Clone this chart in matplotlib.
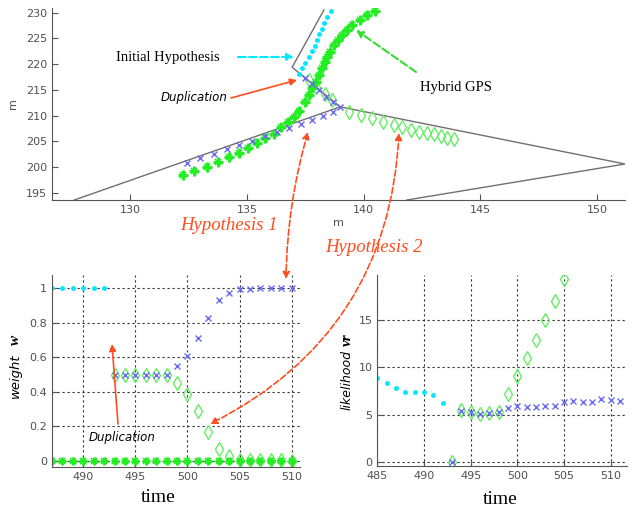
import numpy as np
import matplotlib
matplotlib.use("Agg")
import matplotlib.pyplot as plt

# ---- dados do mapa (m) ----
track_a = [(138.3, 230.5), (136.94, 219.4), (139.0, 211.7), (151.2, 200.6), (141.85, 193.6)]
track_b = [(127.6, 193.6), (139.0, 211.7)]

init_x = [137.25, 137.35, 137.5, 137.65, 137.8, 137.9, 138.0, 138.1, 138.2, 138.3, 138.45, 138.6]
init_y = [218.0, 219.2, 220.3, 221.4, 222.5, 223.6, 224.7, 225.8, 226.9, 228.0, 229.2, 230.4]

gps_x = [132.26, 132.75, 133.28, 133.78, 134.22, 134.65, 135.03, 135.44, 135.79, 136.15, 136.48,
         136.76, 137.00, 137.23, 137.47, 137.65, 137.80, 137.94, 138.08, 138.23, 138.33, 138.44,
         138.58, 138.73, 138.90, 139.09, 139.30, 139.52, 139.84, 140.16, 140.47]
gps_y = [198.44, 199.22, 200.06, 201.03, 202.00, 202.82, 203.64, 204.67, 205.64, 206.42, 207.78,
         208.75, 209.73, 210.90, 212.65, 214.01, 215.31, 216.60, 217.90, 219.20, 220.49, 221.46,
         222.43, 223.74, 224.71, 225.68, 226.65, 227.63, 228.60, 229.57, 230.41]

hyp1_x = [132.43, 133.00, 133.57, 134.15, 134.68, 135.22, 135.76, 136.27, 136.79, 137.30, 137.80,
          138.27, 138.68, 139.01, 137.51, 137.81, 138.11, 138.41, 138.71]
hyp1_y = [200.84, 201.69, 202.53, 203.50, 204.28, 205.12, 206.03, 206.75, 207.53, 208.31, 209.14,
          209.92, 210.76, 211.73, 217.32, 216.15, 214.98, 213.62, 212.65]

hyp2_x = [137.64, 137.98, 138.33, 138.63, 139.37, 139.87, 140.34, 140.85, 141.30, 141.66, 142.02,
          142.37, 142.70, 143.02, 143.30, 143.59, 143.88]
hyp2_y = [216.93, 215.56, 214.20, 213.04, 210.76, 210.12, 209.47, 208.81, 208.17, 207.72, 207.20,
          206.87, 206.67, 206.36, 206.03, 205.70, 205.39]

# ---- pesos ----
w_init_t = [487, 488, 489, 490, 491, 492]
w_init = [1, 1, 1, 1, 1, 1]
w_zero_t = list(range(487, 511))
w_zero = [0] * len(w_zero_t)
w_h1_t = [493, 494, 495, 496, 497, 498, 499, 500, 501, 502, 503, 504, 505, 506, 507, 508, 509, 510]
w_h1 = [0.5, 0.5, 0.5, 0.5, 0.5, 0.5, 0.55, 0.61, 0.71, 0.83, 0.93, 0.975, 0.996, 0.995, 1.0, 1.0, 1.0, 1.0]
w_h2_t = [493, 494, 495, 496, 497, 498, 499, 500, 501, 502, 503, 504, 505, 506, 507, 508, 509, 510]
w_h2 = [0.5, 0.5, 0.5, 0.5, 0.5, 0.5, 0.45, 0.385, 0.29, 0.17, 0.07, 0.027, 0.005, 0.005, 0.004, 0.003, 0.003, 0.002]

# ---- verossimilhanca ----
v_init_t = [485, 486, 487, 488, 489, 490, 491, 492]
v_init = [8.85, 8.32, 7.8, 7.44, 7.44, 7.44, 7.09, 6.2]
v_h1_t = [493, 494, 495, 496, 497, 498, 499, 500, 501, 502, 503, 504, 505, 506, 507, 508, 509, 510, 511]
v_h1 = [0, 5.44, 5.33, 5.09, 5.23, 5.33, 5.76, 5.93, 5.79, 5.79, 5.93, 5.96, 6.32, 6.46, 6.39, 6.39, 6.67, 6.57, 6.5]
v_h2_t = [493, 494, 495, 496, 497, 498, 499, 500, 501, 502, 503, 504, 505]
v_h2 = [0, 5.5, 5.35, 5.05, 5.2, 5.35, 7.16, 9.09, 11.03, 12.89, 14.99, 17.0, 19.3]

CYAN = '#00e8ff'
BLUE = '#6a6aee'
GREEN = '#22ee22'
LGREEN = '#66ee66'
RED = '#ff4d1f'
TICK = '#505050'


def style_axes(ax, grid):
    for s in ['top', 'right']:
        ax.spines[s].set_visible(False)
    for s in ['left', 'bottom']:
        ax.spines[s].set_color('#555555')
    ax.tick_params(direction='in', length=4, labelsize=8, labelcolor=TICK, color='#555555')
    if grid:
        ax.grid(True, color='#333333', linestyle=(0, (2, 2.5)), linewidth=0.8)
        ax.set_axisbelow(True)


def star(ax, x, y, ms):
    # asterisco estilo matlab: '+' grosso com um 'x' por cima
    ax.plot(x, y, '+', color=GREEN, ms=ms, mew=2.2)
    ax.plot(x, y, 'x', color=GREEN, ms=ms * 0.7, mew=1.2)


fig = plt.figure(figsize=(6.32, 5.13), dpi=100)

# mapa superior
ax = fig.add_axes([0.0823, 0.6101, 0.9066, 0.3743])
ax.plot(*zip(*track_a), color='#707070', lw=1)
ax.plot(*zip(*track_b), color='#707070', lw=1)
ax.plot(hyp2_x, hyp2_y, 'd', mfc='none', mec=LGREEN, ms=7, mew=1)
star(ax, gps_x, gps_y, 6.5)
ax.plot(hyp1_x, hyp1_y, 'x', color=BLUE, ms=4, mew=1)
ax.plot(init_x, init_y, 'o', color=CYAN, ms=2.5)
ax.set_xlim(126.65, 151.2)
ax.set_ylim(193.6, 230.9)
ax.set_xticks([130, 135, 140, 145, 150])
ax.set_yticks([195, 200, 205, 210, 215, 220, 225, 230])
style_axes(ax, False)
ax.set_xlabel('m', fontsize=8, color=TICK, labelpad=2)
ax.set_ylabel('m', fontsize=8, color=TICK, labelpad=6)

# pesos
ax1 = fig.add_axes([0.0823, 0.0903, 0.3924, 0.3737])
ax1.plot(w_init_t, w_init, 'o', color=CYAN, ms=2.5)
ax1.plot(w_h2_t, w_h2, 'd', mfc='none', mec=LGREEN, ms=7, mew=1)
star(ax1, w_zero_t, w_zero, 5.5)
ax1.plot(w_h1_t, w_h1, 'x', color=BLUE, ms=4, mew=1)
ax1.set_xlim(487, 510.8)
ax1.set_ylim(-0.033, 1.077)
ax1.set_xticks([490, 495, 500, 505, 510])
ax1.set_yticks([0, 0.2, 0.4, 0.6, 0.8, 1])
ax1.set_yticklabels(['0', '0.2', '0.4', '0.6', '0.8', '1'])
style_axes(ax1, True)

# verossimilhanca
ax2 = fig.add_axes([0.597, 0.0922, 0.3946, 0.3717])
ax2.plot(v_init_t, v_init, 'o', color=CYAN, ms=2.5)
ax2.plot(v_h2_t, v_h2, 'd', mfc='none', mec=LGREEN, ms=7, mew=1)
ax2.plot(v_h1_t, v_h1, 'x', color=BLUE, ms=4, mew=1)
ax2.set_xlim(485, 511.7)
ax2.set_ylim(-0.36, 19.74)
ax2.set_xticks([485, 490, 495, 500, 505, 510])
ax2.set_yticks([0, 5, 10, 15])
style_axes(ax2, True)

# camada de anotacoes em pixels
ov = fig.add_axes([0, 0, 1, 1], zorder=10)
ov.set_xlim(0, 632)
ov.set_ylim(513, 0)
ov.axis('off')

serif = 'Liberation Serif'
ov.text(168, 58, 'Initial Hypothesis', family=serif, fontsize=10.5, ha='center', va='center')
ov.text(456, 87, 'Hybrid GPS', family=serif, fontsize=10.5, ha='center', va='center')
ov.text(194, 97, 'Duplication', style='italic', fontsize=8.5, ha='center', va='center')
ov.text(122, 437, 'Duplication', style='italic', fontsize=8.5, ha='center', va='center')
ov.text(229, 225, 'Hypothesis 1', family=serif, style='italic', fontsize=13.5, color=RED,
        ha='center', va='center')
ov.text(374, 248, 'Hypothesis 2', family=serif, style='italic', fontsize=13.5, color=RED,
        ha='center', va='center')

ov.text(158, 497, 'time', family=serif, fontsize=14, ha='center', va='center')
ov.text(500, 500, 'time', family=serif, fontsize=14, ha='center', va='center')
ov.text(15, 376, 'weight', style='italic', fontsize=9.5, rotation=90, ha='center', va='center')
ov.text(15, 340, 'w', family=serif, style='italic', weight='bold', fontsize=11, rotation=90,
        ha='center', va='center')
ov.text(347, 380, 'likelihood', style='italic', fontsize=9, rotation=90, ha='center', va='center')
ov.text(347, 340, 'vr', family=serif, style='italic', weight='bold', fontsize=11, rotation=90,
        ha='center', va='center')


def arrow(p0, p1, color, ls='-', style='-|>', rad=0.0, lw=1.2):
    ov.annotate('', xy=p1, xytext=p0,
                arrowprops=dict(arrowstyle=style, color=color, lw=lw, linestyle=ls,
                                shrinkA=0, shrinkB=0, mutation_scale=10,
                                connectionstyle='arc3,rad=%s' % rad))


arrow((238, 57), (294, 57), CYAN, ls='--', lw=1.5)
arrow((416, 72), (356, 30), '#33dd33', ls='--', lw=1.5)
arrow((231, 98), (297, 80), RED)
arrow((118, 424), (112, 344), RED)
arrow((308, 132), (286, 279), RED, ls='--', style='<|-|>', rad=0.067)
arrow((399, 133), (210, 424), RED, ls='--', style='<|-|>', rad=-0.29)

fig.savefig('out.png', dpi=100)
